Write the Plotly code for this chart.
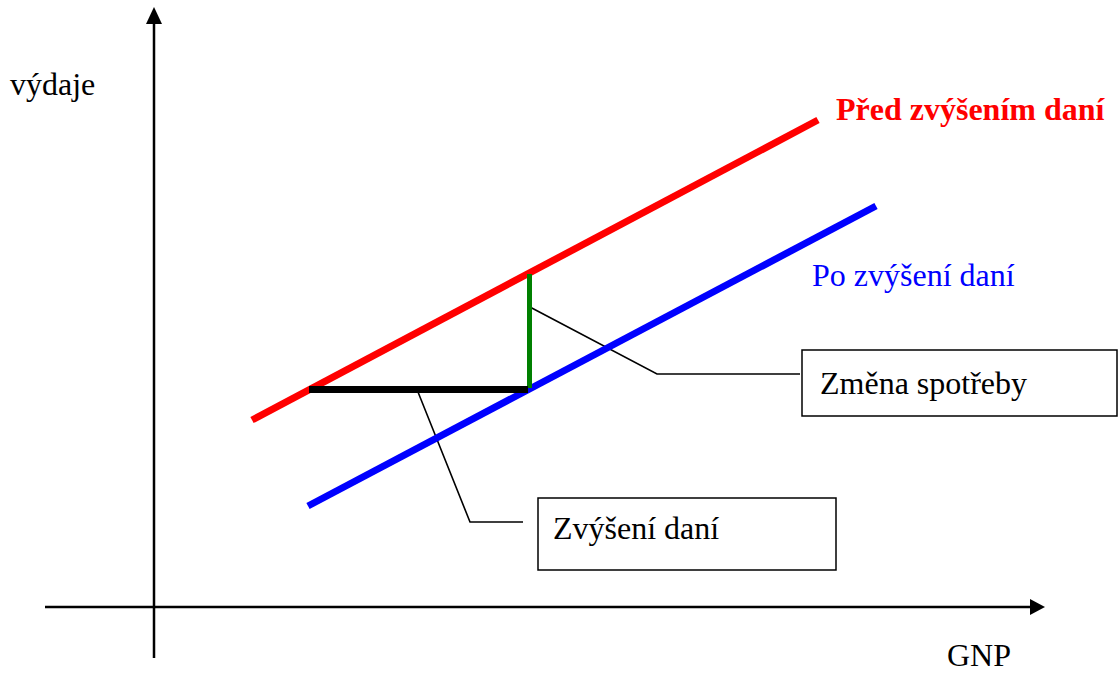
import plotly.graph_objects as go

W, H = 1118, 674

# Diagram data in screen-like units (x to the right, y downward)
red_x = [252, 818]          # "Před zvýšením daní" expenditure line
red_y = [420, 120]
blue_x = [308, 876]         # "Po zvýšení daní" expenditure line
blue_y = [506, 206]
tax_x = [309, 528]          # tax increase (horizontal, black)
tax_y = [389.5, 389.5]
cons_x = [529.5, 529.5]     # change in consumption (vertical, green)
cons_y = [274, 388]
lead1_x = [528, 657, 800]   # leader to "Změna spotřeby"
lead1_y = [306, 374, 374]
lead2_x = [418, 470, 523]   # leader to "Zvýšení daní"
lead2_y = [392, 522, 522]
yaxis_x = [154, 154]
yaxis_y = [658, 24]
xaxis_x = [45, 1031]
xaxis_y = [607, 607]
box1 = [802, 350, 1117, 416]
box2 = [538, 498, 836, 570]

labels = ["výdaje", "Před zvýšením daní", "Po zvýšení daní", "Změna spotřeby", "Zvýšení daní", "GNP"]
label_x = [9, 835, 811, 819, 552, 946]
label_y = [84, 109, 275, 383, 528, 655]
label_color = ["black", "#FF0000", "#0000FF", "black", "black", "black"]
label_bold = [False, True, False, False, False, False]

FONT = "Liberation Serif, Times New Roman, serif"

fig = go.Figure()

def line(xs, ys, color, width):
    fig.add_trace(go.Scatter(x=xs, y=ys, mode="lines",
                             line=dict(color=color, width=width),
                             hoverinfo="skip", showlegend=False))

# axes
line(yaxis_x, yaxis_y, "black", 2.5)
line(xaxis_x, xaxis_y, "black", 2.5)
# arrowheads computed from axis ends
ah_len, ah_half = 17, 8
tipx, tipy = yaxis_x[1], yaxis_y[1] - ah_len
fig.add_shape(type="path",
              path=f"M {tipx-ah_half},{yaxis_y[1]} L {tipx+ah_half},{yaxis_y[1]} L {tipx},{tipy} Z",
              fillcolor="black", line=dict(color="black", width=0), layer="above")
tx, ty = xaxis_x[1] + ah_len - 3, xaxis_y[1]
fig.add_shape(type="path",
              path=f"M {xaxis_x[1]-1},{ty-ah_half} L {xaxis_x[1]-1},{ty+ah_half} L {tx},{ty} Z",
              fillcolor="black", line=dict(color="black", width=0), layer="above")

# leaders
line(lead1_x, lead1_y, "black", 1.6)
line(lead2_x, lead2_y, "black", 1.6)
# main lines
line(red_x, red_y, "#FF0000", 7)
line(blue_x, blue_y, "#0000FF", 7)
line(cons_x, cons_y, "#008000", 5)
line(tax_x, tax_y, "black", 7)

for b in (box1, box2):
    fig.add_shape(type="rect", x0=b[0], y0=b[1], x1=b[2], y1=b[3],
                  line=dict(color="black", width=1.5), fillcolor="white", layer="above")

for t, x, y, c, bold in zip(labels, label_x, label_y, label_color, label_bold):
    fig.add_annotation(x=x, y=y, text=f"<b>{t}</b>" if bold else t,
                       showarrow=False, xanchor="left", yanchor="middle", borderpad=0,
                       font=dict(family=FONT, size=32, color=c))

fig.update_layout(
    width=W, height=H,
    margin=dict(l=0, r=0, t=0, b=0),
    paper_bgcolor="white", plot_bgcolor="white",
    xaxis=dict(range=[0, W], visible=False, fixedrange=True),
    yaxis=dict(range=[H, 0], visible=False, fixedrange=True),
)

fig.write_html("out.html", config={"displayModeBar": False},
               post_script="document.body.style.margin='0';document.body.style.overflow='hidden';")
